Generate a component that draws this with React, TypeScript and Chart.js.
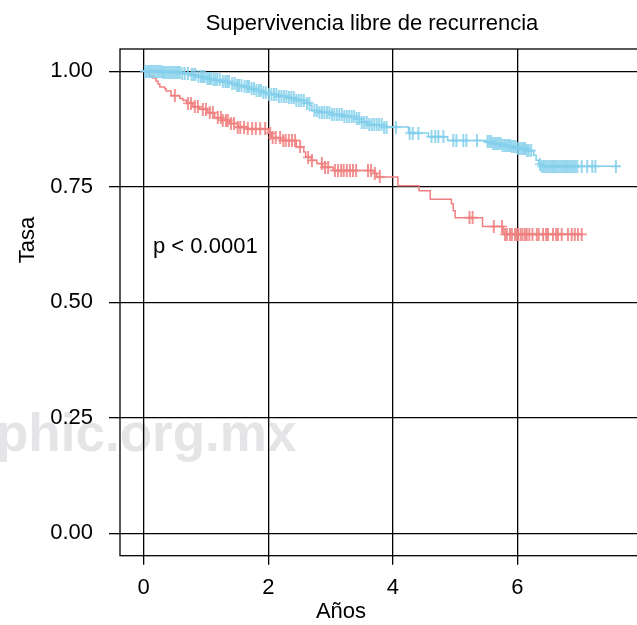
import React, { useEffect, useRef } from "react";
import { Chart, registerables } from "chart.js";

Chart.register(...registerables);

const FONT = "'Liberation Sans', Arial, Helvetica, sans-serif";

const titleText = "Supervivencia libre de recurrencia";
const xTitle = "Años";
const yTitle = "Tasa";
const pText = "p < 0.0001";
const watermarkText = "phic.org.mx";

const xTicks = [0, 2, 4, 6];
const yTicks = [0, 0.25, 0.5, 0.75, 1];

const blueEventTimes = [0, 0.3, 0.6, 0.75, 0.85, 1.0, 1.1, 1.25, 1.4, 1.5, 1.6, 1.7, 1.8, 1.9, 2.0, 2.15, 2.3, 2.45, 2.58, 2.67, 2.7, 2.8, 3.0, 3.2, 3.4, 3.5, 3.6, 3.85, 4.25, 4.57, 4.88, 5.5, 5.6, 5.75, 5.9, 6.0, 6.15, 6.26, 6.3, 6.34, 6.37];
const blueEventSurv = [1, 0.998, 0.995, 0.992, 0.988, 0.984, 0.981, 0.977, 0.973, 0.969, 0.966, 0.962, 0.958, 0.954, 0.95, 0.946, 0.942, 0.937, 0.931, 0.926, 0.915, 0.911, 0.906, 0.902, 0.897, 0.89, 0.884, 0.879, 0.866, 0.858, 0.85, 0.847, 0.843, 0.839, 0.836, 0.833, 0.828, 0.818, 0.807, 0.799, 0.794];
const blueEndTime = 7.65;
const blueCensorTimes = [
  0.02, 0.05, 0.08, 0.1, 0.13, 0.16, 0.19, 0.22, 0.25, 0.28, 0.31, 0.34, 0.37, 0.4, 0.43, 0.46, 0.49, 0.52, 0.55, 0.58,
  0.62, 0.66, 0.71, 0.77, 0.8, 0.83, 0.88, 0.92, 0.95, 0.98, 1.02, 1.05, 1.08, 1.12, 1.15, 1.18, 1.22, 1.27, 1.31, 1.34,
  1.37, 1.42, 1.46, 1.5, 1.53, 1.57, 1.62, 1.66, 1.69, 1.73, 1.77, 1.81, 1.85, 1.88, 1.92, 1.96, 2.01, 2.05, 2.09, 2.13,
  2.17, 2.21, 2.25, 2.29, 2.33, 2.37, 2.41, 2.45, 2.49, 2.53, 2.57, 2.62, 2.66, 2.74, 2.78, 2.82, 2.86, 2.9, 2.94, 2.98,
  3.02, 3.06, 3.1, 3.14, 3.18, 3.22, 3.26, 3.3, 3.34, 3.38, 3.42, 3.46, 3.5, 3.54, 3.58, 3.62, 3.66, 3.7, 3.74, 3.78,
  3.82, 3.86, 3.9, 4.05, 4.27, 4.32, 4.41, 4.62, 4.68, 4.73, 4.81, 4.97, 5.02, 5.13, 5.18, 5.35,
  5.52, 5.55, 5.58, 5.61, 5.64, 5.67, 5.7, 5.73, 5.76, 5.79, 5.82, 5.85, 5.88, 5.91, 5.94, 5.97, 6.0, 6.03, 6.06, 6.09,
  6.12, 6.15, 6.18, 6.22, 6.36, 6.39, 6.42, 6.45, 6.48, 6.51, 6.54, 6.57, 6.6, 6.63, 6.66, 6.69, 6.72, 6.75, 6.78, 6.81,
  6.84, 6.87, 6.9, 6.93, 6.96, 7.03, 7.12, 7.2, 7.25, 7.58,
];

const redEventTimes = [0, 0.09, 0.15, 0.2, 0.23, 0.26, 0.34, 0.36, 0.44, 0.58, 0.63, 0.69, 0.79, 0.9, 1.03, 1.14, 1.25, 1.38, 1.51, 1.65, 2.0, 2.05, 2.2, 2.45, 2.57, 2.6, 2.69, 2.78, 2.87, 3.04, 3.7, 3.74, 4.08, 4.42, 4.6, 4.94, 4.97, 5.0, 5.44, 5.77];
const redEventSurv = [1, 0.99, 0.985, 0.978, 0.972, 0.966, 0.962, 0.957, 0.947, 0.941, 0.937, 0.931, 0.923, 0.918, 0.91, 0.899, 0.894, 0.887, 0.879, 0.875, 0.866, 0.856, 0.85, 0.836, 0.825, 0.814, 0.807, 0.8, 0.792, 0.785, 0.779, 0.771, 0.752, 0.741, 0.723, 0.713, 0.698, 0.683, 0.664, 0.647];
const redEndTime = 7.05;
const redCensorTimes = [
  0.5, 0.71, 0.76, 0.82, 0.87, 0.95, 1.0, 1.06, 1.11, 1.19, 1.24, 1.27, 1.32, 1.35, 1.4, 1.45, 1.51, 1.55, 1.61, 1.67,
  1.74, 1.8, 1.87, 1.95, 2.03, 2.07, 2.12, 2.19, 2.24, 2.28, 2.33, 2.38, 2.43, 2.51, 2.64, 2.7, 2.86, 2.91, 2.96, 3.07,
  3.12, 3.17, 3.21, 3.26, 3.31, 3.36, 3.41, 3.6, 3.65, 3.71, 3.79, 5.23, 5.28, 5.62, 5.75, 5.8, 5.83, 5.88, 5.91, 5.96,
  5.99, 6.01, 6.05, 6.08, 6.12, 6.15, 6.19, 6.24, 6.31, 6.34, 6.41, 6.46, 6.49, 6.57, 6.62, 6.65, 6.71, 6.81, 6.87, 6.92,
  6.97, 7.03,
];

const BLUE = "#84D0EC";
const RED = "#F08080";

function survAt(times: number[], surv: number[], t: number) {
  let s = surv[0];
  for (let i = 0; i < times.length; i++) if (times[i] <= t) s = surv[i];
  return s;
}

function stepPoints(times: number[], surv: number[], end: number) {
  const pts = times.map((t, i) => ({ x: t, y: surv[i] }));
  pts.push({ x: end, y: surv[surv.length - 1] });
  return pts;
}

function censorPoints(times: number[], surv: number[], censor: number[]) {
  return censor.map((t) => ({ x: t, y: survAt(times, surv, t) }));
}

function plusImage(color: string) {
  const c = document.createElement("canvas");
  c.width = 10;
  c.height = 13;
  const g = c.getContext("2d")!;
  g.strokeStyle = color;
  g.lineWidth = 1.7;
  g.beginPath();
  g.moveTo(5, 0);
  g.lineTo(5, 13);
  g.moveTo(0, 6.5);
  g.lineTo(10, 6.5);
  g.stroke();
  return c;
}

const decor = {
  id: "decor",
  beforeDraw(chart: any) {
    const ctx = chart.ctx;
    ctx.save();
    ctx.font = `bold 53px ${FONT}`;
    ctx.fillStyle = "#e5e5e7";
    ctx.textAlign = "left";
    ctx.textBaseline = "alphabetic";
    ctx.fillText(watermarkText, -4, 451);
    ctx.restore();
  },
  afterDraw(chart: any) {
    const ctx = chart.ctx;
    const a = chart.chartArea;
    const xs = chart.scales.x;
    const ys = chart.scales.y;
    ctx.save();
    ctx.strokeStyle = "#000";
    ctx.lineWidth = 1.3;
    ctx.strokeRect(a.left, a.top, a.right - a.left, a.bottom - a.top);
    ctx.fillStyle = "#000";
    ctx.textBaseline = "middle";
    ctx.textAlign = "center";
    ctx.font = `22px ${FONT}`;
    ctx.fillText(titleText, 372, 24);
    ctx.fillText(xTitle, 341, 612);
    ctx.save();
    ctx.translate(28, 240);
    ctx.rotate(-Math.PI / 2);
    ctx.fillText(yTitle, 0, 0);
    ctx.restore();
    ctx.textAlign = "left";
    ctx.fillText(pText, xs.getPixelForValue(0.15), ys.getPixelForValue(0.62));
    ctx.restore();
  },
};

export default function App() {
  const ref = useRef<HTMLCanvasElement>(null);
  useEffect(() => {
    if (!ref.current) return;
    const bluePlus = plusImage(BLUE);
    const redPlus = plusImage(RED);
    const chart = new Chart(ref.current, {
      type: "line",
      data: {
        datasets: [
          {
            label: "blue",
            data: stepPoints(blueEventTimes, blueEventSurv, blueEndTime),
            borderColor: BLUE,
            borderWidth: 1.5,
            stepped: "before",
            pointRadius: 0,
            fill: false,
          },
          {
            label: "blue censor",
            data: censorPoints(blueEventTimes, blueEventSurv, blueCensorTimes),
            showLine: false,
            pointStyle: bluePlus as any,
            pointRadius: 6,
            borderColor: BLUE,
          },
          {
            label: "red",
            data: stepPoints(redEventTimes, redEventSurv, redEndTime),
            borderColor: RED,
            borderWidth: 1.5,
            stepped: "before",
            pointRadius: 0,
            fill: false,
          },
          {
            label: "red censor",
            data: censorPoints(redEventTimes, redEventSurv, redCensorTimes),
            showLine: false,
            pointStyle: redPlus as any,
            pointRadius: 6,
            borderColor: RED,
          },
        ],
      },
      options: {
        animation: false,
        responsive: false,
        parsing: false as any,
        layout: { padding: { top: 49, right: 9, left: 0, bottom: 0 } },
        plugins: { legend: { display: false }, tooltip: { enabled: false }, title: { display: false } },
        scales: {
          x: {
            type: "linear",
            min: -0.38,
            max: 7.983,
            z: 1,
            afterBuildTicks: (s: any) => {
              s.ticks = xTicks.map((v) => ({ value: v }));
            },
            afterFit: (s: any) => {
              s.height = 69.3;
            },
            ticks: {
              font: { family: FONT, size: 22 },
              color: "#000",
              padding: 10,
              maxRotation: 0,
              autoSkip: false,
              callback: (v: any) => String(v),
            },
            grid: { color: "#000", lineWidth: 1.3, tickLength: 9, drawOnChartArea: true },
            border: { display: false },
          },
          y: {
            type: "linear",
            min: -0.0486,
            max: 1.048,
            z: 1,
            afterBuildTicks: (s: any) => {
              s.ticks = yTicks.map((v) => ({ value: v }));
            },
            afterFit: (s: any) => {
              s.width = 120;
            },
            ticks: {
              font: { family: FONT, size: 22 },
              color: "#000",
              padding: 16,
              callback: (v: any) => Number(v).toFixed(2),
            },
            grid: { color: "#000", lineWidth: 1.3, tickLength: 11, drawOnChartArea: true },
            border: { display: false },
          },
        },
      },
      plugins: [decor],
    });
    return () => chart.destroy();
  }, []);
  return (
    <div style={{ position: "fixed", left: 0, top: 0, width: 637, height: 625, overflow: "hidden", background: "#fff" }}>
      <canvas ref={ref} width={650} height={625} style={{ display: "block" }} />
    </div>
  );
}
